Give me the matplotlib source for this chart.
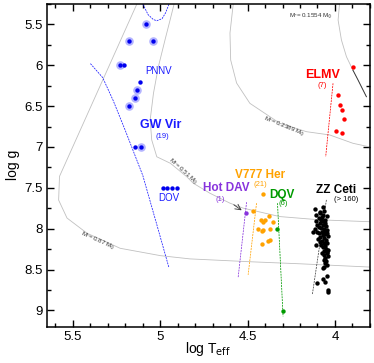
import matplotlib

matplotlib.use("Agg")
import matplotlib.pyplot as plt
from matplotlib.ticker import MultipleLocator, FormatStrFormatter

plt.rcParams["font.family"] = ["Liberation Sans", "DejaVu Sans"]
plt.rcParams["mathtext.default"] = "regular"

# evolutionary tracks (log Teff, log g)
trk087_t = [5.134, 5.577, 5.582, 5.534, 5.42, 5.23, 5.00, 4.83, 4.486, 4.2, 3.80]
trk087_g = [5.25, 7.36, 7.65, 7.87, 8.055, 8.24, 8.33, 8.37, 8.405, 8.43, 8.47]
trk051_t = [4.915, 4.944, 4.973, 5.011, 5.039, 5.058, 5.049, 5.02, 4.942, 4.849,
            4.811, 4.716, 4.601, 4.525, 4.316, 4.087, 3.80]
trk051_g = [5.2, 5.447, 5.69, 6.018, 6.343, 6.67, 6.914, 7.12, 7.20, 7.363,
            7.444, 7.566, 7.688, 7.749, 7.852, 7.892, 7.915]
trk0239_t = [4.582, 4.601, 4.597, 4.563, 4.487, 4.316, 4.163, 4.03, 3.897, 3.80]
trk0239_g = [5.243, 5.606, 5.936, 6.218, 6.466, 6.71, 6.813, 6.853, 6.955, 7.0]
trk0155_t = [3.972, 3.982, 3.963, 3.934, 3.897]
trk0155_g = [5.2, 5.447, 5.69, 5.896, 6.06]
trk0155b_t = [3.897, 3.868, 3.82]
trk0155b_g = [6.06, 6.18, 6.385]

# instability strip edges
gwvir_edge_t = [5.40, 5.33, 5.27, 5.20, 5.10, 5.02, 4.95]
gwvir_edge_g = [5.98, 6.15, 6.43, 6.80, 7.35, 7.95, 8.48]
gwvir_top_t = [5.10, 5.07, 5.04, 5.02, 4.99, 4.97, 4.95]
gwvir_top_g = [5.25, 5.38, 5.44, 5.455, 5.43, 5.36, 5.25]
elmv_edge_t = [4.011, 4.053]
elmv_edge_g = [6.221, 7.119]
hotdav_edge_t = [4.506, 4.554]
hotdav_edge_g = [7.676, 8.593]
v777_edge_t = [4.449, 4.497]
v777_edge_g = [7.688, 8.565]
dqv_edge_t = [4.329, 4.297]
dqv_edge_g = [7.688, 9.074]
zz_edge_t = [4.049, 4.129]
zz_edge_g = [7.648, 8.80]

# pulsators
pnnv_halo_t = [5.081, 5.177, 5.043, 5.231, 5.133, 5.146, 5.177, 5.111]
pnnv_halo_g = [5.50, 5.70, 5.70, 6.00, 6.30, 6.40, 6.50, 7.00]
gwvir_t = [5.205, 5.114, 5.146, 4.982, 4.959, 4.934, 4.906]
gwvir_g = [6.00, 6.20, 7.00, 7.5, 7.5, 7.5, 7.5]
elmv_t = [3.897, 3.98, 3.973, 3.959, 3.946, 3.995, 3.961]
elmv_g = [6.026, 6.36, 6.49, 6.548, 6.658, 6.80, 6.829]
hotdav_t = [4.511]
hotdav_g = [7.803]
v777_t = [4.411, 4.468, 4.376, 4.426, 4.401, 4.411, 4.354, 4.443, 4.411, 4.42,
          4.369, 4.373, 4.382, 4.42]
v777_g = [7.575, 7.782, 7.843, 7.892, 7.90, 7.92, 7.913, 8.002, 8.015, 8.027,
          8.006, 8.137, 8.145, 8.19]
dqv_t = [4.329, 4.297]
dqv_g = [8.006, 9.005]
zz_t = [4.066, 4.113, 4.085, 4.060, 4.107, 4.066, 4.094, 4.055, 4.107, 4.075,
        4.047, 4.088, 4.085, 4.066, 4.050, 4.080, 4.100, 4.128, 4.060, 4.045,
        4.075, 4.090, 4.055, 4.070, 4.040, 4.085, 4.060, 4.050, 4.075, 4.095,
        4.045, 4.065, 4.080, 4.109, 4.055, 4.100, 4.112, 4.090, 4.070, 4.058,
        4.080, 4.062, 4.048, 4.085, 4.070, 4.050, 4.060, 4.045, 4.048, 4.063,
        4.040, 4.055, 4.065, 4.050, 4.048, 4.058, 4.066, 4.060, 4.042, 4.075,
        4.066, 4.055, 4.100, 4.042, 4.040, 4.045]
zz_g = [7.73, 7.76, 7.79, 7.78, 7.83, 7.83, 7.87, 7.89, 7.91, 7.86,
        7.84, 7.81, 7.93, 7.95, 7.97, 7.99, 7.96, 8.035, 8.00, 8.02,
        8.04, 8.05, 8.06, 8.08, 8.09, 8.10, 8.12, 8.14, 8.15, 8.13,
        8.17, 8.18, 8.20, 8.20, 8.21, 8.04, 8.00, 7.98, 7.91, 7.93,
        7.90, 8.03, 8.05, 8.16, 8.23, 8.25, 8.27, 8.29, 8.30, 8.32,
        8.34, 8.36, 8.38, 8.40, 8.44, 8.42, 8.48, 8.47, 8.26, 8.30,
        8.62, 8.65, 8.67, 8.75, 8.77, 8.58]

BLUE = "#1a1aff"
RED = "#ff0000"
ORANGE = "#ffa200"
GREEN = "#009a00"
PURPLE = "#8833dd"
TRACK = "#c0c0c0"

fig = plt.figure(figsize=(3.74, 3.63), dpi=100)
ax = fig.add_axes([0.125, 0.1, 0.864, 0.889])

for t, g in [(trk087_t, trk087_g), (trk051_t, trk051_g), (trk0239_t, trk0239_g),
             (trk0155_t, trk0155_g)]:
    ax.plot(t, g, color=TRACK, lw=0.6)
ax.plot(trk0155b_t, trk0155b_g, color="#333333", lw=0.7)

dash = (0, (2.5, 1.2))
ax.plot(gwvir_edge_t, gwvir_edge_g, color=BLUE, lw=0.55, ls=dash)
ax.plot(gwvir_top_t, gwvir_top_g, color=BLUE, lw=0.55, ls=dash)
ax.plot(elmv_edge_t, elmv_edge_g, color=RED, lw=0.55, ls=dash)
ax.plot(hotdav_edge_t, hotdav_edge_g, color=PURPLE, lw=0.55, ls=dash)
ax.plot(v777_edge_t, v777_edge_g, color=ORANGE, lw=0.55, ls=dash)
ax.plot(dqv_edge_t, dqv_edge_g, color=GREEN, lw=0.55, ls=dash)
ax.plot(zz_edge_t, zz_edge_g, color="#444444", lw=0.55, ls=dash)

ax.scatter(pnnv_halo_t, pnnv_halo_g, s=38, color="#8c8cff", alpha=0.65, lw=0, zorder=3)
ax.scatter(pnnv_halo_t, pnnv_halo_g, s=10, color="#0000ee", lw=0, zorder=4)
ax.scatter(gwvir_t, gwvir_g, s=10, color="#0000ee", lw=0, zorder=4)
ax.scatter(elmv_t, elmv_g, s=10, color=RED, lw=0, zorder=4)
ax.scatter(hotdav_t, hotdav_g, s=10, color=PURPLE, lw=0, zorder=4)
ax.scatter(v777_t, v777_g, s=10, color=ORANGE, lw=0, zorder=4)
ax.scatter(dqv_t, dqv_g, s=10, color=GREEN, lw=0, zorder=4)
ax.scatter(zz_t, zz_g, s=10, color="black", lw=0, zorder=4)

# labels
ax.text(5.011, 6.07, "PNNV", color=BLUE, fontsize=7, ha="center", va="center")
ax.text(5.0, 6.735, "GW Vir", color=BLUE, fontsize=9, fontweight="bold",
        ha="center", va="center")
ax.text(4.99, 6.874, "(19)", color=BLUE, fontsize=5.5, ha="center", va="center")
ax.text(4.954, 7.62, "DOV", color=BLUE, fontsize=7, ha="center", va="center")
ax.text(4.071, 6.12, "ELMV", color=RED, fontsize=9, fontweight="bold",
        ha="center", va="center")
ax.text(4.071, 6.25, "(7)", color=RED, fontsize=5.5, ha="center", va="center")
ax.text(4.62, 7.505, "Hot DAV", color=PURPLE, fontsize=8.5, fontweight="bold",
        ha="center", va="center")
ax.text(4.658, 7.64, "(1)", color=PURPLE, fontsize=5.5, ha="center", va="center")
ax.annotate("", xy=(4.521, 7.795), xytext=(4.592, 7.688),
            arrowprops=dict(arrowstyle="->", color="#333333", lw=0.6))
ax.text(4.43, 7.34, "V777 Her", color=ORANGE, fontsize=8.5, fontweight="bold",
        ha="center", va="center")
ax.text(4.43, 7.465, "(21)", color=ORANGE, fontsize=5.5, ha="center", va="center")
ax.text(4.306, 7.587, "DQV", color=GREEN, fontsize=8.5, fontweight="bold",
        ha="center", va="center")
ax.text(4.297, 7.688, "(6)", color=GREEN, fontsize=5.5, ha="center", va="center")
ax.text(3.991, 7.526, "ZZ Ceti", color="black", fontsize=8.5, fontweight="bold",
        ha="center", va="center")
ax.text(3.938, 7.64, "(> 160)", color="black", fontsize=5.5, ha="center", va="center")

ax.text(5.36, 8.16, r"M$_{*}$= 0.87 M$_{\odot}$", fontsize=4.5, color="#333333",
        rotation=-24, ha="center", va="center")
ax.text(4.87, 7.30, r"M$_{*}$= 0.51 M$_{\odot}$", fontsize=4.5, color="#333333",
        rotation=-42, ha="center", va="center")
ax.text(4.29, 6.75, r"M$_{*}$= 0.2389 M$_{\odot}$", fontsize=4.5, color="#333333",
        rotation=-22, ha="center", va="center")
ax.text(4.14, 5.407, r"M$_{*}$= 0.1554 M$_{\odot}$", fontsize=4.5, color="#333333",
        ha="center", va="center")

ax.set_xlim(5.65, 3.8)
ax.set_ylim(9.2, 5.25)
ax.xaxis.set_major_locator(MultipleLocator(0.5))
ax.xaxis.set_minor_locator(MultipleLocator(0.1))
ax.yaxis.set_major_locator(MultipleLocator(0.5))
ax.yaxis.set_minor_locator(MultipleLocator(0.25))
ax.xaxis.set_major_formatter(FormatStrFormatter("%g"))
ax.yaxis.set_major_formatter(FormatStrFormatter("%g"))
ax.tick_params(which="both", direction="in", top=True, right=True, labelsize=9.5,
               width=1.0)
ax.tick_params(which="major", length=5, pad=3)
ax.tick_params(which="minor", length=3)
for sp in ax.spines.values():
    sp.set_linewidth(1.1)

ax.set_xlabel(r"log T$_{\rm eff}$", fontsize=10)
ax.xaxis.set_label_coords(0.5, -0.04)
ax.set_ylabel("log g", fontsize=10, labelpad=3)

fig.savefig("out.png", dpi=100)
